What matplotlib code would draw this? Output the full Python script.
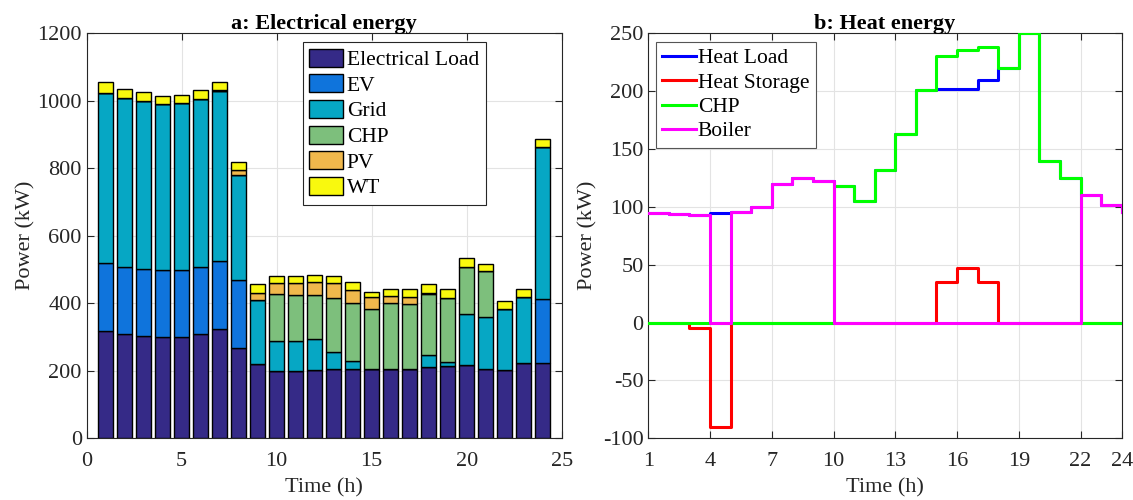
import numpy as np
import matplotlib.pyplot as plt

plt.rcParams['font.family'] = ['Liberation Serif', 'DejaVu Serif']
plt.rcParams['font.size'] = 16
plt.rcParams['axes.unicode_minus'] = False

hours = np.arange(1, 25)

# electrical supply / demand per hour (kW)
elec_load = [318, 308, 303, 299, 299, 309, 324, 269, 219, 200, 200, 203,
             204, 204, 204, 206, 206, 210, 213, 218, 206, 203, 223, 223]
ev = [200, 200, 200, 200, 200, 200, 200, 200, 0, 0, 0, 0,
      0, 0, 0, 0, 0, 0, 0, 0, 0, 0, 0, 190]
grid = [506, 500, 496, 491, 494, 496, 505, 310, 191, 88, 88, 91,
        51, 25, 0, 0, 0, 36, 12, 150, 154, 180, 196, 450]
chp_e = [0, 0, 0, 0, 0, 0, 0, 0, 0, 141, 137, 130,
         160, 171, 178, 194, 191, 183, 190, 140, 136, 0, 0, 0]
pv = [0, 0, 0, 0, 0, 0, 4, 16, 21, 30, 34, 39,
      44, 39, 38, 22, 23, 3, 2, 0, 0, 0, 0, 0]
wt = [31, 27, 26, 25, 24, 28, 24, 24, 25, 21, 21, 21,
      21, 23, 14, 21, 21, 25, 24, 26, 21, 23, 22, 24]

# heat balance per hour (kW)
heat_load = [95, 94, 93, 95, 96, 100, 120, 125, 122, 118, 105, 132,
             163, 201, 202, 202, 210, 220, 250, 140, 125, 110, 102, 96]
heat_storage = [0, 0, -5, -90, 0, 0, 0, 0, 0, 0, 0, 0,
                0, 0, 35, 47, 35, 0, 0, 0, 0, 0, 0, 0]
chp_h = [0, 0, 0, 0, 0, 0, 0, 0, 0, 118, 105, 132,
         163, 201, 230, 236, 238, 220, 250, 140, 125, 0, 0, 0]
boiler = [95, 94, 93, 0, 96, 100, 120, 125, 122, 0, 0, 0,
          0, 0, 0, 0, 0, 0, 0, 0, 0, 110, 102, 96]

elec_series = [elec_load, ev, grid, chp_e, pv, wt]
elec_names = ['Electrical Load', 'EV', 'Grid', 'CHP', 'PV', 'WT']
elec_colors = ['#352a87', '#0f74dc', '#06a7c4', '#7dbf7c', '#f0b84c', '#f9f90e']

fig = plt.figure(figsize=(11.33, 5), dpi=100)
ax1 = fig.add_axes([0.0765, 0.1234, 0.4192, 0.81])
ax2 = fig.add_axes([0.5722, 0.1234, 0.4178, 0.81])

# stacked bars
bottom = np.zeros(len(hours))
for vals, name, col in zip(elec_series, elec_names, elec_colors):
    ax1.bar(hours, vals, width=0.8, bottom=bottom, color=col,
            edgecolor='black', linewidth=1, label=name, zorder=3)
    bottom += np.array(vals)

ax1.set_xlim(0, 25)
ax1.set_ylim(0, 1200)
ax1.set_xticks(np.arange(0, 26, 5))
ax1.set_yticks(np.arange(0, 1201, 200))
ax1.set_xlabel('Time (h)', labelpad=5)
ax1.set_ylabel('Power (kW)', labelpad=1)
ax1.set_title('a: Electrical energy', fontweight='bold', fontsize=16, pad=3)
leg1 = ax1.legend(loc='upper right', bbox_to_anchor=(0.84, 0.978), fontsize=15.5,
                  fancybox=False, framealpha=1, edgecolor='#262626',
                  handlelength=1.55, handleheight=0.9, labelspacing=0.2,
                  handletextpad=0.2, borderpad=0.3, borderaxespad=0)
leg1.get_frame().set_linewidth(0.8)

# heat lines as stairs
ax2.step(hours, heat_load, where='post', color='#0000ff', lw=2.2, label='Heat Load', zorder=3)
ax2.step(hours, heat_storage, where='post', color='#ff0000', lw=2.2, label='Heat Storage', zorder=4)
ax2.step(hours, chp_h, where='post', color='#00ff00', lw=2.2, label='CHP', zorder=5)
ax2.step(hours, boiler, where='post', color='#ff00ff', lw=2.2, label='Boiler', zorder=6)

ax2.set_xlim(1, 24)
ax2.set_ylim(-100, 250)
ax2.set_xticks([1, 4, 7, 10, 13, 16, 19, 22, 24])
ax2.set_yticks(np.arange(-100, 251, 50))
ax2.set_xlabel('Time (h)', labelpad=5)
ax2.set_ylabel('Power (kW)', labelpad=4)
ax2.set_title('b: Heat energy', fontweight='bold', fontsize=16, pad=3)
leg2 = ax2.legend(loc='upper left', bbox_to_anchor=(0.016, 0.979), fontsize=15.5,
                  fancybox=False, framealpha=1, edgecolor='#555555',
                  handlelength=1.55, labelspacing=0.2, handletextpad=0.1,
                  borderpad=0.3, borderaxespad=0)
leg2.get_frame().set_linewidth(0.8)

for ax in (ax1, ax2):
    ax.grid(True, color='#e3e3e3', linewidth=0.8, zorder=0)
    ax.set_axisbelow(True)
    ax.tick_params(direction='in', top=True, right=True, length=5,
                   width=0.8, colors='#262626', labelcolor='#262626')
    ax.tick_params(axis='x', pad=10)
    for sp in ax.spines.values():
        sp.set_color('#262626')
        sp.set_linewidth(0.8)
    ax.xaxis.label.set_color('#262626')
    ax.yaxis.label.set_color('#262626')

fig.savefig('out.png', dpi=100)
